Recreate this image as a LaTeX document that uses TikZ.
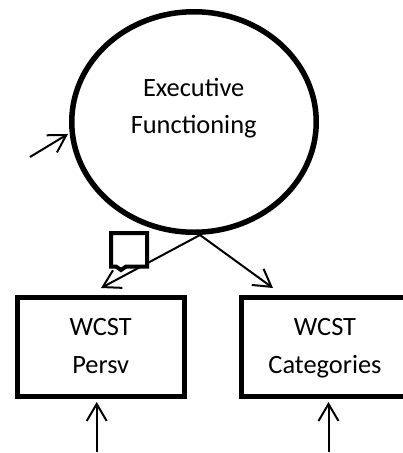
\documentclass[tikz,border=0pt]{standalone}
\usepackage{fontspec}
\setmainfont{Carlito}
\usetikzlibrary{arrows.meta,shapes.geometric}
\tikzset{
  x=1pt,y=-1pt,
  latent/.style={draw=black,line width=5.5pt,ellipse,minimum width=244.5pt,minimum height=220.5pt,inner sep=0pt},
  observed/.style={draw=black,line width=5pt,rectangle,inner sep=0pt},
  label text/.style={inner sep=0pt,align=center,font=\fontsize{26.4}{37.5}\selectfont},
  path arrow/.style={line width=2pt,-{Straight Barb[length=17pt,width=20pt,line width=2pt]}},
  callout/.style={draw=black,line width=4pt,fill=white,miter limit=4}
}
\begin{document}
\begin{tikzpicture}
\clip (0,0) rectangle (403,453);
\node[latent] (ef) at (194,122) {};
\node[observed,minimum width=167.5pt,minimum height=99.5pt] (persv) at (100.75,346.75) {};
\node[observed,minimum width=180pt,minimum height=99.5pt] (cat) at (331,346.75) {};
\node[label text,anchor=base] (eft) at (193.7,133.5) {Executive\\Functioning};
\node[label text,anchor=base] (pt) at (100.7,373) {WCST\\Persv};
\node[label text,anchor=base] (ct) at (325,373) {WCST\\Categories};
\coordinate (src) at (200,235);
\coordinate (e1) at (30,157);
\coordinate (t1) at (68,134);
\coordinate (e2) at (96.7,452);
\coordinate (e3) at (328.5,452);
\coordinate (t2) at (101,288);
\coordinate (t3) at (273,288);
\coordinate (t4) at (96.7,402);
\coordinate (t5) at (328.5,402);
\draw[path arrow] (src) -- (t2);
\draw[path arrow] (src) -- (t3);
\draw[path arrow] (e1) -- (t1);
\draw[path arrow] (e2) -- (t4);
\draw[path arrow] (e3) -- (t5);
\draw[callout] (111,233) -- (147,233) -- (147,266.5) -- (126,266.5) -- (121,270) -- (116,266.5) -- (111,266.5) -- cycle;
\end{tikzpicture}
\end{document}
